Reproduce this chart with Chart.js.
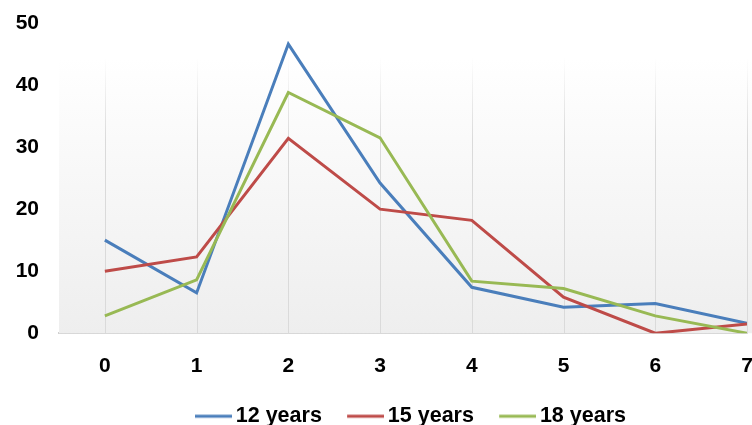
<!DOCTYPE html>
<html>
<head>
<meta charset="utf-8">
<script src="https://cdn.jsdelivr.net/npm/chart.js@4/dist/chart.umd.min.js"></script>
<style>
  html, body { margin: 0; padding: 0; background: #ffffff; }
  #wrap { width: 752px; height: 425px; position: relative; }
</style>
</head>
<body>
<div id="wrap"><canvas id="c" width="752" height="425"></canvas></div>
<script>
// Age at measurement (x) and values per cohort
const xValues = [0, 1, 2, 3, 4, 5, 6, 7];
const years12 = [15, 6.5, 46.6, 24.2, 7.4, 4.2, 4.8, 1.6];
const years15 = [10, 12.3, 31.4, 20, 18.2, 5.8, 0, 1.5];
const years18 = [2.8, 8.6, 38.8, 31.5, 8.4, 7.2, 2.8, 0];
const seriesNames = ['12 years', '15 years', '18 years'];
const seriesColors = ['#4a7ebb', '#be4b48', '#98b954'];
const yTicks = [0, 10, 20, 30, 40, 50];

const FONT = "'Liberation Sans', Arial, sans-serif";

function pts(vals) {
  return xValues.map((x, i) => ({ x: x, y: vals[i] }));
}

// Legend marker: a 37px line sitting in the right part of a wider transparent swatch,
// so it ends just before the label text
function swatch(color) {
  const c = document.createElement('canvas');
  c.width = 59; c.height = 6;
  const g = c.getContext('2d');
  g.strokeStyle = color;
  g.lineWidth = 3;
  g.beginPath();
  g.moveTo(22, 3);
  g.lineTo(59, 3);
  g.stroke();
  return c;
}

// Soft grey gradient panel behind the lines, plus faint vertical guides
const panelPlugin = {
  id: 'panel',
  beforeDatasetsDraw(chart) {
    const { ctx, chartArea, scales } = chart;
    const top = scales.y.getPixelForValue(44.4);
    const bottom = scales.y.getPixelForValue(0);
    const left = chartArea.left;
    const right = chart.width;
    ctx.save();
    const g = ctx.createLinearGradient(0, top, 0, bottom);
    g.addColorStop(0, '#ffffff');
    g.addColorStop(1, '#eeeeee');
    ctx.fillStyle = g;
    ctx.fillRect(left, top, right - left, bottom - top);
    ctx.lineWidth = 1;
    xValues.forEach(v => {
      const px = Math.round(scales.x.getPixelForValue(v)) + 0.5;
      const g2 = ctx.createLinearGradient(0, top, 0, bottom);
      g2.addColorStop(0, 'rgba(218,218,218,0)');
      g2.addColorStop(0.3, 'rgba(218,218,218,1)');
      ctx.strokeStyle = g2;
      ctx.beginPath();
      ctx.moveTo(px, top);
      ctx.lineTo(px, bottom);
      ctx.stroke();
    });
    ctx.restore();
  }
};

const seriesValues = [years12, years15, years18];

new Chart(document.getElementById('c'), {
  type: 'line',
  data: {
    datasets: seriesValues.map((vals, i) => ({
      label: seriesNames[i],
      data: pts(vals),
      borderColor: seriesColors[i],
      backgroundColor: seriesColors[i],
      borderWidth: 3,
      pointStyle: swatch(seriesColors[i]),
      order: 3 - i
    }))
  },
  options: {
    responsive: false,
    animation: false,
    devicePixelRatio: 1,
    layout: { padding: { top: 23, right: 5, left: 0, bottom: -12 } },
    elements: {
      line: { borderWidth: 3, tension: 0 },
      point: { radius: 0, hoverRadius: 0 }
    },
    scales: {
      x: {
        type: 'linear',
        min: -0.5,
        max: 7,
        afterBuildTicks(axis) { axis.ticks = xValues.map(v => ({ value: v })); },
        afterFit(axis) { axis.paddingRight = 0; axis.paddingLeft = 0; axis.height = 62; },
        grid: { display: false, drawTicks: false },
        border: { display: true, color: '#d0d0d0', width: 2 },
        ticks: {
          padding: 20,
          color: '#000000',
          font: { family: FONT, size: 21, weight: 'bold' },
          maxRotation: 0,
          autoSkip: false
        }
      },
      y: {
        min: 0,
        max: 50,
        afterBuildTicks(axis) { axis.ticks = yTicks.map(v => ({ value: v })); },
        afterFit(axis) { axis.width = 59; axis.paddingTop = 0; axis.paddingBottom = 0; },
        grid: { display: false, drawTicks: false },
        border: { display: false },
        ticks: {
          padding: 20,
          color: '#000000',
          font: { family: FONT, size: 21, weight: 'bold' }
        }
      }
    },
    plugins: {
      tooltip: { enabled: false },
      legend: {
        position: 'bottom',
        fullSize: false,
        labels: {
          usePointStyle: true,
          pointStyleWidth: 45,
          padding: 10.25,
          color: '#000000',
          font: { family: FONT, size: 21.5, weight: 'bold' },
          sort: (a, b) => a.datasetIndex - b.datasetIndex
        }
      }
    }
  },
  plugins: [panelPlugin]
});
</script>
</body>
</html>
